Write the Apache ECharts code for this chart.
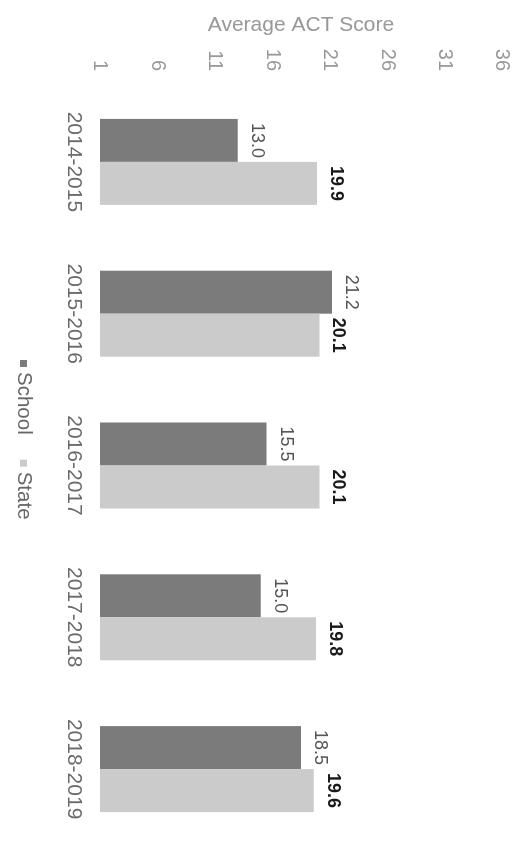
<!DOCTYPE html>
<html>
<head>
<meta charset="utf-8">
<script src="https://cdn.jsdelivr.net/npm/echarts@6/dist/echarts.min.js"></script>
<style>
html,body{margin:0;padding:0;background:#fff;overflow:hidden;width:524px;height:845px;}
#chart{position:absolute;left:0;top:0;width:845px;height:524px;transform-origin:0 0;transform:translate(524px,0) rotate(90deg);}
</style>
</head>
<body>
<div id="chart"></div>
<script>
const categories = ['2014-2015', '2015-2016', '2016-2017', '2017-2018', '2018-2019'];
const schoolScores = [13.0, 21.2, 15.5, 15.0, 18.5];
const stateScores = [19.9, 20.1, 20.1, 19.8, 19.6];
const axisMin = 1, axisMax = 36, axisStep = 5;

const chart = echarts.init(document.getElementById('chart'), null, {renderer: 'canvas'});
const FONT = '"Liberation Sans", Arial, sans-serif';
chart.setOption({
  animation: false,
  backgroundColor: '#fff',
  textStyle: {fontFamily: FONT},
  grid: {left: 86, right: 0, top: 22, bottom: 100},
  legend: {
    data: ['School', 'State'],
    bottom: 8,
    left: 355,
    itemWidth: 7,
    itemHeight: 7,
    itemGap: 25,
    icon: 'rect',
    textStyle: {fontSize: 20.5, color: '#666', fontFamily: FONT}
  },
  xAxis: {
    type: 'category',
    data: categories,
    axisLine: {show: false},
    axisTick: {show: false},
    axisLabel: {fontSize: 21, color: '#6a6a6a', margin: 16, fontFamily: FONT}
  },
  yAxis: {
    type: 'value',
    min: axisMin, max: axisMax, interval: axisStep,
    name: 'Average ACT Score',
    nameLocation: 'middle',
    nameGap: 50,
    nameTextStyle: {fontSize: 21, color: '#999', fontFamily: FONT},
    axisLine: {show: false},
    axisTick: {show: false},
    splitLine: {show: false},
    axisLabel: {fontSize: 20, color: '#999', margin: 15, fontFamily: FONT}
  },
  series: [
    {
      name: 'School', type: 'bar', data: schoolScores,
      barWidth: 43, barGap: '0%',
      itemStyle: {color: '#7b7b7b'},
      label: {show: true, position: 'top', distance: 10, fontSize: 18, color: '#555',
        formatter: p => p.value.toFixed(1)}
    },
    {
      name: 'State', type: 'bar', data: stateScores,
      barWidth: 43,
      itemStyle: {color: '#cbcbcb'},
      label: {show: true, position: 'top', distance: 10, fontSize: 18, fontWeight: 'bold', color: '#1a1a1a',
        formatter: p => p.value.toFixed(1)}
    }
  ]
});
</script>
</body>
</html>
